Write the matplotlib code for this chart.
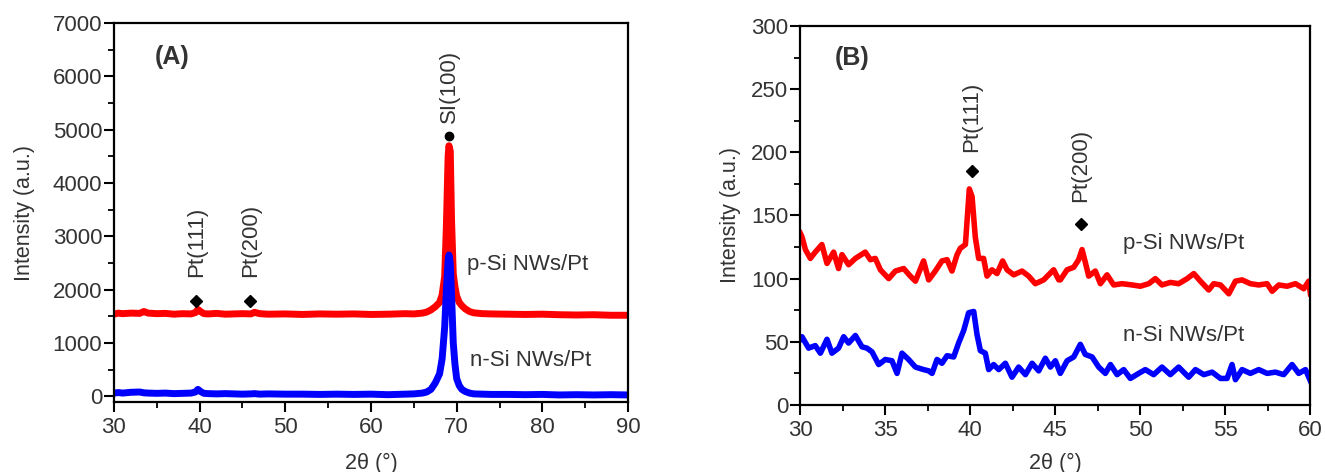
import numpy as np
import matplotlib
matplotlib.use("Agg")
import matplotlib.pyplot as plt
from matplotlib.ticker import MultipleLocator

plt.rcParams['font.family'] = ['Liberation Sans', 'DejaVu Sans']

# ---------------- panel A data (2theta 30-90) ----------------
a_x = [30, 30.5, 31, 32, 33, 33.5, 34, 35, 36, 37, 38, 39, 39.5, 39.8, 40.1, 40.5,
       41, 42, 43, 44, 45, 46, 46.4, 47, 48, 50, 52, 54, 56, 58, 60, 62, 64, 65,
       66, 66.5, 67, 67.5, 68, 68.3, 68.6, 68.8, 69.0, 69.1, 69.25, 69.4, 69.6,
       69.8, 70.0, 70.3, 70.6, 71.0, 71.5, 72, 73, 74, 76, 78, 80, 82, 84, 86, 88, 90]
a_p = [1540, 1560, 1550, 1560, 1555, 1590, 1560, 1550, 1555, 1540, 1550, 1545, 1570, 1630, 1590, 1550,
       1545, 1555, 1540, 1545, 1550, 1545, 1575, 1550, 1540, 1545, 1535, 1545, 1540, 1545, 1535, 1540, 1550, 1545,
       1560, 1580, 1620, 1680, 1760, 1900, 2250, 3200, 4500, 4700, 4600, 3300, 2300,
       2050, 1880, 1760, 1700, 1640, 1590, 1565, 1550, 1545, 1540, 1535, 1540, 1530, 1525, 1530, 1520, 1520]
a_n = [60, 70, 60, 75, 80, 65, 60, 55, 60, 50, 55, 60, 80, 130, 90, 55,
       50, 45, 50, 45, 40, 45, 50, 40, 45, 40, 40, 35, 40, 35, 40, 30, 40, 45,
       60, 80, 130, 250, 420, 700, 1300, 2000, 2550, 2650, 2500, 1900, 1000,
       600, 330, 200, 130, 90, 60, 45, 40, 35, 35, 30, 35, 25, 30, 25, 30, 25]

# ---------------- panel B data (2theta 30-60) ----------------
b_px = [30, 30.1, 30.3, 30.59, 30.88, 31.27, 31.57, 31.96, 32.25, 32.45, 32.84, 33.24, 33.82,
        34.12, 34.41, 34.71, 35.2, 35.59, 36.08, 36.47, 36.77, 37.25, 37.55, 37.94, 38.33,
        38.63, 38.92, 39.22, 39.41, 39.71, 39.94, 40.1, 40.29, 40.49, 40.78, 40.98, 41.27,
        41.57, 41.9, 42.16, 42.55, 43.04, 43.43, 43.82, 44.31, 44.9, 45.2, 45.29, 45.69,
        46.08, 46.37, 46.57, 46.76, 46.96, 47.35, 47.65, 48.04, 48.43, 48.92, 49.51, 50.0,
        50.49, 50.88, 51.27, 51.76, 52.25, 52.75, 53.14, 53.53, 54.02, 54.31, 54.71, 55.2,
        55.59, 55.98, 56.47, 56.96, 57.45, 57.75, 58.14, 58.63, 59.12, 59.61, 59.9, 60.0]
b_p = [136, 133, 123, 116, 121, 127, 112, 121, 108, 119, 111, 116, 121,
       115, 116, 107, 100, 106, 108, 102, 98, 114, 99, 106, 114,
       115, 106, 119, 124, 127, 171, 165, 133, 116, 116, 102, 107,
       104, 114, 107, 103, 106, 102, 96, 99, 107, 99, 99, 107,
       109, 115, 123, 113, 102, 106, 96, 103, 95, 96, 95, 94,
       96, 100, 95, 97, 96, 100, 104, 98, 91, 96, 95, 88,
       98, 99, 96, 95, 96, 90, 95, 94, 96, 92, 98, 88]

b_nx = [30, 30.1, 30.49, 30.88, 31.18, 31.57, 31.86, 32.25, 32.55, 32.84, 33.24, 33.63, 33.92,
        34.22, 34.61, 35.0, 35.39, 35.69, 35.98, 36.37, 36.77, 37.25, 37.55, 37.75, 38.04,
        38.33, 38.63, 39.02, 39.31, 39.61, 39.9, 40.2, 40.39, 40.59, 40.88, 41.08, 41.37,
        41.67, 42.06, 42.45, 42.84, 43.24, 43.63, 44.02, 44.41, 44.71, 45.0, 45.29, 45.69,
        46.08, 46.47, 46.76, 47.16, 47.55, 47.94, 48.24, 48.63, 49.02, 49.41, 49.9, 50.29,
        50.78, 51.27, 51.76, 52.25, 52.84, 53.24, 53.73, 54.22, 54.71, 55.1, 55.39, 55.59,
        55.98, 56.47, 56.96, 57.45, 57.94, 58.43, 58.92, 59.31, 59.71, 60.0]
b_n = [52, 54, 45, 47, 41, 52, 41, 45, 54, 49, 55, 46, 45,
       42, 32, 36, 35, 25, 41, 36, 30, 28, 27, 25, 36,
       33, 39, 38, 49, 59, 73, 74, 56, 43, 41, 28, 32,
       28, 33, 22, 30, 24, 33, 27, 37, 30, 35, 25, 35,
       38, 48, 40, 38, 30, 25, 32, 24, 28, 21, 25, 28,
       24, 30, 24, 30, 22, 28, 24, 26, 21, 21, 32, 20,
       28, 25, 28, 25, 26, 24, 32, 25, 28, 19]

red = '#ff0000'
blue = '#0000ff'
txt = '#333333'
fs = 16

fig = plt.figure(figsize=(13.25, 4.72), dpi=100)
axA = fig.add_axes([0.086, 0.148, 0.388, 0.803])
axB = fig.add_axes([0.604, 0.142, 0.385, 0.803])


def style(ax, ylab_x, xlab_y):
    for s in ax.spines.values():
        s.set_linewidth(1.6)
    ax.tick_params(which='major', direction='out', length=7, width=1.5,
                   labelsize=fs, colors='black', labelcolor=txt, top=False, right=False)
    ax.tick_params(axis='y', which='major', pad=1.5)
    ax.tick_params(which='minor', direction='out', length=4, width=1.3, top=False, right=False)
    ax.set_xlabel('2θ (°)', fontsize=15.5, color=txt)
    ax.set_ylabel('Intensity (a.u.)', fontsize=15.5, color=txt)
    ax.xaxis.set_label_coords(0.5, xlab_y)
    ax.yaxis.set_label_coords(ylab_x, 0.5)


# ----- panel A -----
axA.plot(a_x, a_p, color=red, lw=5, solid_joinstyle='round')
axA.plot(a_x, a_n, color=blue, lw=5, solid_joinstyle='round')
axA.set_xlim(30, 90)
axA.set_ylim(-110, 7000)
axA.xaxis.set_major_locator(MultipleLocator(10))
axA.xaxis.set_minor_locator(MultipleLocator(5))
axA.yaxis.set_major_locator(MultipleLocator(1000))
axA.yaxis.set_minor_locator(MultipleLocator(500))
style(axA, -0.154, -0.133)
axA.text(34.8, 6365, '(A)', fontsize=18, fontweight='bold', color=txt, va='center')
axA.plot([39.6, 45.9], [1790, 1790], 'D', color='black', ms=6)
axA.plot([69.1], [4880], 'o', color='black', ms=6)
axA.text(39.6, 2240, 'Pt(111)', rotation=90, ha='center', va='bottom', fontsize=fs, color=txt)
axA.text(45.9, 2240, 'Pt(200)', rotation=90, ha='center', va='bottom', fontsize=fs, color=txt)
axA.text(69.1, 5120, 'SI(100)', rotation=90, ha='center', va='bottom', fontsize=fs, color=txt)
axA.text(71.2, 2470, 'p-Si NWs/Pt', ha='left', va='center', fontsize=fs, color=txt)
axA.text(71.6, 680, 'n-Si NWs/Pt', ha='left', va='center', fontsize=fs, color=txt)

# ----- panel B -----
axB.plot(b_px, b_p, color=red, lw=4, solid_joinstyle='round')
axB.plot(b_nx, b_n, color=blue, lw=4, solid_joinstyle='round')
axB.set_xlim(30, 60)
axB.set_ylim(0, 300)
axB.xaxis.set_major_locator(MultipleLocator(5))
axB.xaxis.set_minor_locator(MultipleLocator(2.5))
axB.yaxis.set_major_locator(MultipleLocator(50))
axB.yaxis.set_minor_locator(MultipleLocator(25))
style(axB, -0.117, -0.127)
axB.text(32.0, 275, '(B)', fontsize=18, fontweight='bold', color=txt, va='center')
axB.plot([40.1, 46.5], [185, 143], 'D', color='black', ms=6)
axB.text(40.1, 200, 'Pt(111)', rotation=90, ha='center', va='bottom', fontsize=fs, color=txt)
axB.text(46.5, 161, 'Pt(200)', rotation=90, ha='center', va='bottom', fontsize=fs, color=txt)
axB.text(49.0, 128, 'p-Si NWs/Pt', ha='left', va='center', fontsize=fs, color=txt)
axB.text(49.0, 55, 'n-Si NWs/Pt', ha='left', va='center', fontsize=fs, color=txt)

fig.savefig('out.png', dpi=100)
